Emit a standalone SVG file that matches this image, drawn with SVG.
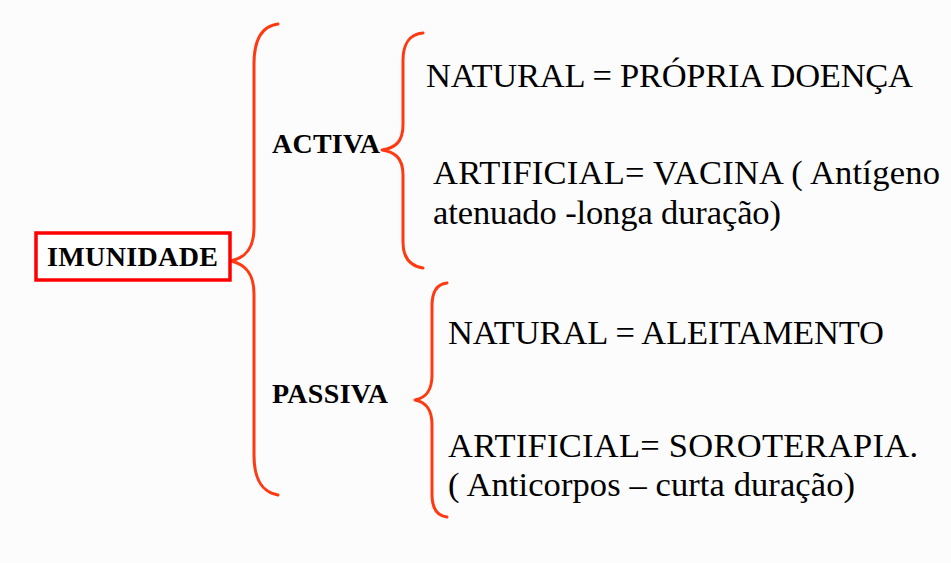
<svg xmlns="http://www.w3.org/2000/svg" width="951" height="563" viewBox="0 0 951 563">
  <style>
    .bg { fill: #fcfcfc; }
    .brace { fill: none; stroke: #ff3a12; stroke-width: 3; stroke-linecap: round; stroke-linejoin: round; }
    .box { fill: #ffffff; stroke: #ff0000; stroke-width: 3.5; }
    .bold { font-family: "Liberation Serif", "Times New Roman", serif; font-weight: bold; font-size: 28px; fill: #000; }
    .reg { font-family: "Liberation Serif", "Times New Roman", serif; font-size: 34.5px; fill: #000; }
  </style>
  <rect class="bg" x="0" y="0" width="951" height="563"/>

  <g id="connectors">
    <path class="brace" d="M278,24 C262,26 254,40 254,64 L254,228 C254,250 244,258 231,261 C244,264 254,272 254,294 L254,455 C254,480 262,492 278,495"/>
    <path class="brace" d="M423,33 C410,34 403,44 403,60 L403,125 C403,142 395,148 382,150 C395,152 403,158 403,175 L403,242 C403,258 410,266 423,268"/>
    <path class="brace" d="M447,283 C437,284 432,292 432,306 L432,375 C432,392 425,398 415,400 C425,402 432,408 432,425 L432,494 C432,508 437,516 447,517"/>
  </g>

  <g id="imunidade">
    <rect class="box" x="36" y="233" width="194" height="47"/>
    <text class="bold" x="47" y="266" textLength="171">IMUNIDADE</text>
  </g>

  <g id="activa">
    <text class="bold" x="272" y="153" textLength="108">ACTIVA</text>
  </g>

  <g id="passiva">
    <text class="bold" x="272" y="403" textLength="116">PASSIVA</text>
  </g>

  <g id="activa-natural">
    <text class="reg" x="426" y="87" textLength="487">NATURAL = PRÓPRIA DOENÇA</text>
  </g>

  <g id="activa-artificial">
    <text class="reg" x="433" y="184" textLength="507">ARTIFICIAL= VACINA ( Antígeno</text>
    <text class="reg" x="433" y="224" textLength="348">atenuado -longa duração)</text>
  </g>

  <g id="passiva-natural">
    <text class="reg" x="448" y="344" textLength="436">NATURAL = ALEITAMENTO</text>
  </g>

  <g id="passiva-artificial">
    <text class="reg" x="448" y="457" textLength="470">ARTIFICIAL= SOROTERAPIA.</text>
    <text class="reg" x="448" y="496" textLength="407">( Anticorpos – curta duração)</text>
  </g>
</svg>
